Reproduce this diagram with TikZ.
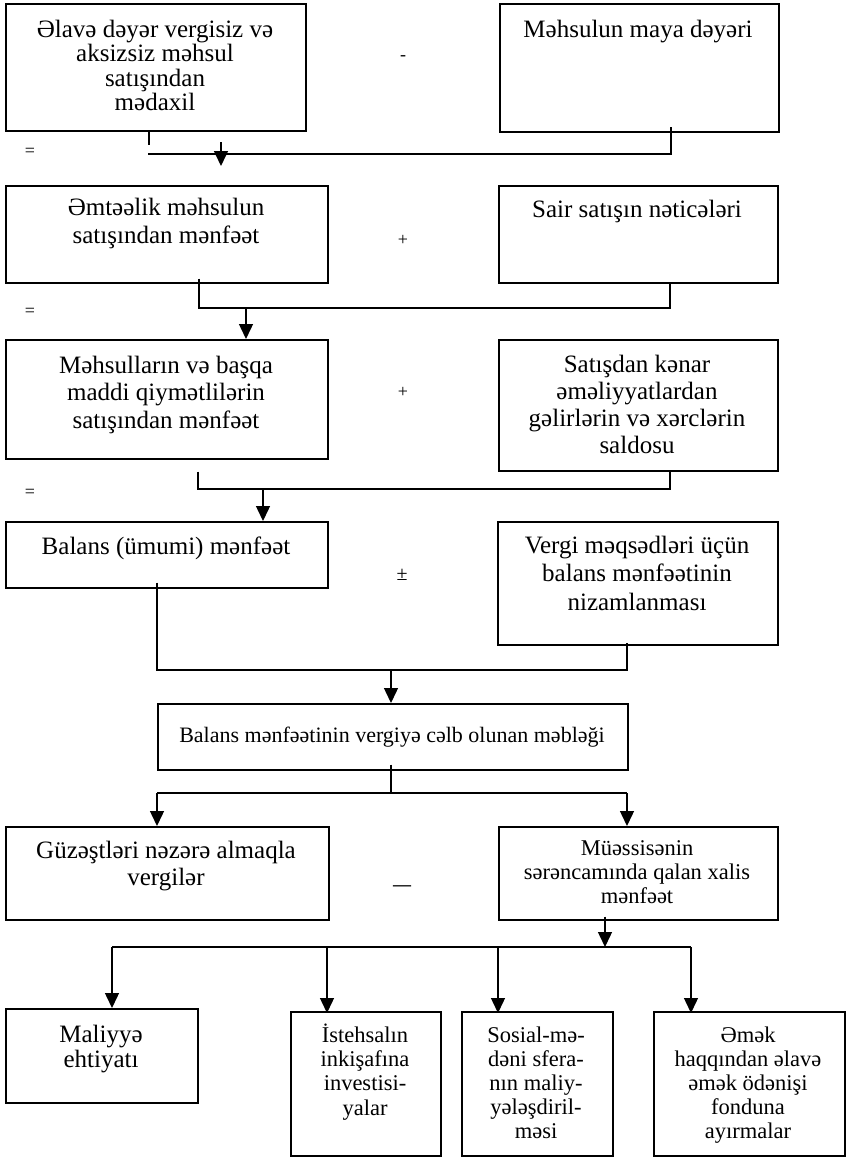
\documentclass[tikz,border=0pt]{standalone}
\usepackage{fontspec}
\setmainfont{Liberation Serif}
\usetikzlibrary{arrows.meta}
\begin{document}
\begin{tikzpicture}[x=1pt,y=-1pt,
  box/.style={draw, line width=1.6pt, inner sep=0pt, anchor=north west},
  txt/.style={align=center, inner sep=0pt, anchor=north},
  conn/.style={line width=1.4pt},
  arr/.style={line width=1.4pt, -{Triangle[length=15pt,width=14pt]}},
  sign/.style={inner sep=0pt, font=\fontsize{18}{18}\selectfont}
]
\useasboundingbox (0,0) rectangle (848,1157);
\fill[white] (0,0) rectangle (848,1157);
\newcommand\tp{\rule{0pt}{24pt}}

% ---- boxes ----
\node[box, minimum width=300pt, minimum height=127pt] (b1) at (5,3) {};
\node[box, minimum width=279pt, minimum height=128pt] (b2) at (499,3) {};
\node[box, minimum width=322pt, minimum height=97pt] (b3) at (5,185) {};
\node[box, minimum width=279pt, minimum height=97pt] (b4) at (498,185) {};
\node[box, minimum width=322pt, minimum height=119pt] (b5) at (5,339) {};
\node[box, minimum width=279pt, minimum height=131pt] (b6) at (498,339) {};
\node[box, minimum width=322pt, minimum height=66pt] (b7) at (5,521) {};
\node[box, minimum width=280pt, minimum height=123pt] (b8) at (497,521) {};
\node[box, minimum width=470pt, minimum height=66pt] (b9) at (157,703) {};
\node[box, minimum width=323pt, minimum height=93pt] (b10) at (5,826) {};
\node[box, minimum width=279pt, minimum height=93pt] (b11) at (498,826) {};
\node[box, minimum width=192pt, minimum height=94pt] (b12) at (5,1008) {};
\node[box, minimum width=150pt, minimum height=144pt] (b13) at (290,1011) {};
\node[box, minimum width=151pt, minimum height=144pt] (b14) at (461,1011) {};
\node[box, minimum width=191pt, minimum height=144pt] (b15) at (653,1011) {};

% ---- texts ----
\node[txt, font=\fontsize{25}{24.5}\selectfont] (t1) at (155,13) {\tp Əlavə dəyər vergisiz və\\aksizsiz məhsul\\satışından\\mədaxil};
\node[txt, font=\fontsize{25}{25}\selectfont] (t2) at (638,13) {\tp Məhsulun maya dəyəri};
\node[txt, font=\fontsize{25}{28}\selectfont] (t3) at (166,191) {\tp Əmtəəlik məhsulun\\satışından mənfəət};
\node[txt, font=\fontsize{25}{25}\selectfont] (t4) at (637,193) {\tp Sair satışın nəticələri};
\node[txt, font=\fontsize{25}{27.5}\selectfont] (t5) at (166,349) {\tp Məhsulların və başqa\\maddi qiymətlilərin\\satışından mənfəət};
\node[txt, font=\fontsize{25}{27}\selectfont] (t6) at (637,348) {\tp Satışdan kənar\\əməliyyatlardan\\gəlirlərin və xərclərin\\saldosu};
\node[txt, font=\fontsize{25}{25}\selectfont] (t7) at (166,530) {\tp Balans (ümumi) mənfəət};
\node[txt, font=\fontsize{25}{28.5}\selectfont] (t8) at (637,529) {\tp Vergi məqsədləri üçün\\balans mənfəətinin\\nizamlanması};
\node[txt, font=\fontsize{22}{22}\selectfont] (t9) at (392,718) {\tp Balans mənfəətinin vergiyə cəlb olunan məbləği};
\node[txt, font=\fontsize{25}{27}\selectfont] (t10) at (166,834) {\tp Güzəştləri nəzərə almaqla\\vergilər};
\node[txt, font=\fontsize{22.5}{24}\selectfont] (t11) at (637,831) {\tp Müəssisənin\\sərəncamında qalan xalis\\mənfəət};
\node[txt, font=\fontsize{25}{25}\selectfont] (t12) at (101,1018) {\tp Maliyyə\\ehtiyatı};
\node[txt, font=\fontsize{22.5}{24.3}\selectfont] (t13) at (365,1018) {\tp İstehsalın\\inkişafına\\investisi-\\yalar};
\node[txt, font=\fontsize{22.5}{24}\selectfont] (t14) at (536,1018) {\tp Sosial-mə-\\dəni sfera-\\nın maliy-\\yələşdiril-\\məsi};
\node[txt, font=\fontsize{22.5}{24}\selectfont] (t15) at (748,1018) {\tp Əmək\\haqqından əlavə\\əmək ödənişi\\fonduna\\ayırmalar};

% ---- signs ----
\node[sign] (s1) at (30,152) {=};
\node[sign] (s2) at (403,58) {-};
\node[sign] (s3) at (30,312) {=};
\node[sign] (s4) at (403,240) {+};
\node[sign] (s5) at (30,493) {=};
\node[sign] (s6) at (403,392) {+};
\node[sign, font=\fontsize{20}{20}\selectfont] (s7) at (402,575) {±};
\node[sign, font=\fontsize{18}{18}\selectfont\bfseries] (s8) at (402,888) {—};

% ---- connector junctions ----
\coordinate (j1a) at (149,145);
\coordinate (j1l) at (148,154);
\coordinate (j1r) at (671,154);
\coordinate (j1s) at (221,142);
\coordinate (j1e) at (221,166);
\coordinate (j2l) at (199,308);
\coordinate (j2r) at (670,308);
\coordinate (j2a) at (246,308);
\coordinate (j3l) at (198,489);
\coordinate (j3r) at (670,489);
\coordinate (j3a) at (263,489);
\coordinate (j4l) at (157,670);
\coordinate (j4r) at (627,670);
\coordinate (j4a) at (391,670);
\coordinate (j5m) at (391,793);
\coordinate (j5l) at (157,793);
\coordinate (j5r) at (627,793);
\coordinate (j6s) at (605,915);
\coordinate (j6m) at (605,947);
\coordinate (j6l) at (112,947);
\coordinate (j6r) at (691,947);
\coordinate (j6b) at (327,947);
\coordinate (j6c) at (498,947);

% ---- connectors ----
\draw[conn] (b1.south -| j1a) -- (j1a);
\draw[conn] (j1l) -- (j1r) -- ([yshift=6pt]b2.south -| j1r);
\draw[arr] (j1s) -- (j1e);

\draw[conn] ([yshift=5pt]b3.south -| j2l) -- (j2l) -- (j2r) -- (b4.south -| j2r);
\draw[arr] (j2a) -- (b5.north -| j2a);

\draw[conn] (b5.south -| j3l) ++(0,12) -- (j3l) -- (j3r) -- (b6.south -| j3r);
\draw[arr] (j3a) -- (b7.north -| j3a);

\draw[conn] ([yshift=6pt]b7.south -| j4l) -- (j4l) -- (j4r) -- ([yshift=3pt]b8.south -| j4r);
\draw[arr] (j4a) -- (b9.north -| j4a);

\draw[conn] ([yshift=6pt]b9.south -| j5m) -- (j5m);
\draw[conn] (j5l) -- (j5r);
\draw[arr] (j5l) -- (b10.north -| j5l);
\draw[arr] (j5r) -- (b11.north -| j5r);

\draw[arr] ([yshift=4pt]b11.south -| j6s) -- (j6m);
\draw[conn] (j6l) -- (j6r);
\draw[arr] (j6l) -- (b12.north -| j6l);
\draw[arr] (j6b) -- ([yshift=-2pt]b13.north -| j6b);
\draw[arr] (j6c) -- ([yshift=-2pt]b14.north -| j6c);
\draw[arr] (j6r) -- ([yshift=-2pt]b15.north -| j6r);
\end{tikzpicture}
\end{document}
